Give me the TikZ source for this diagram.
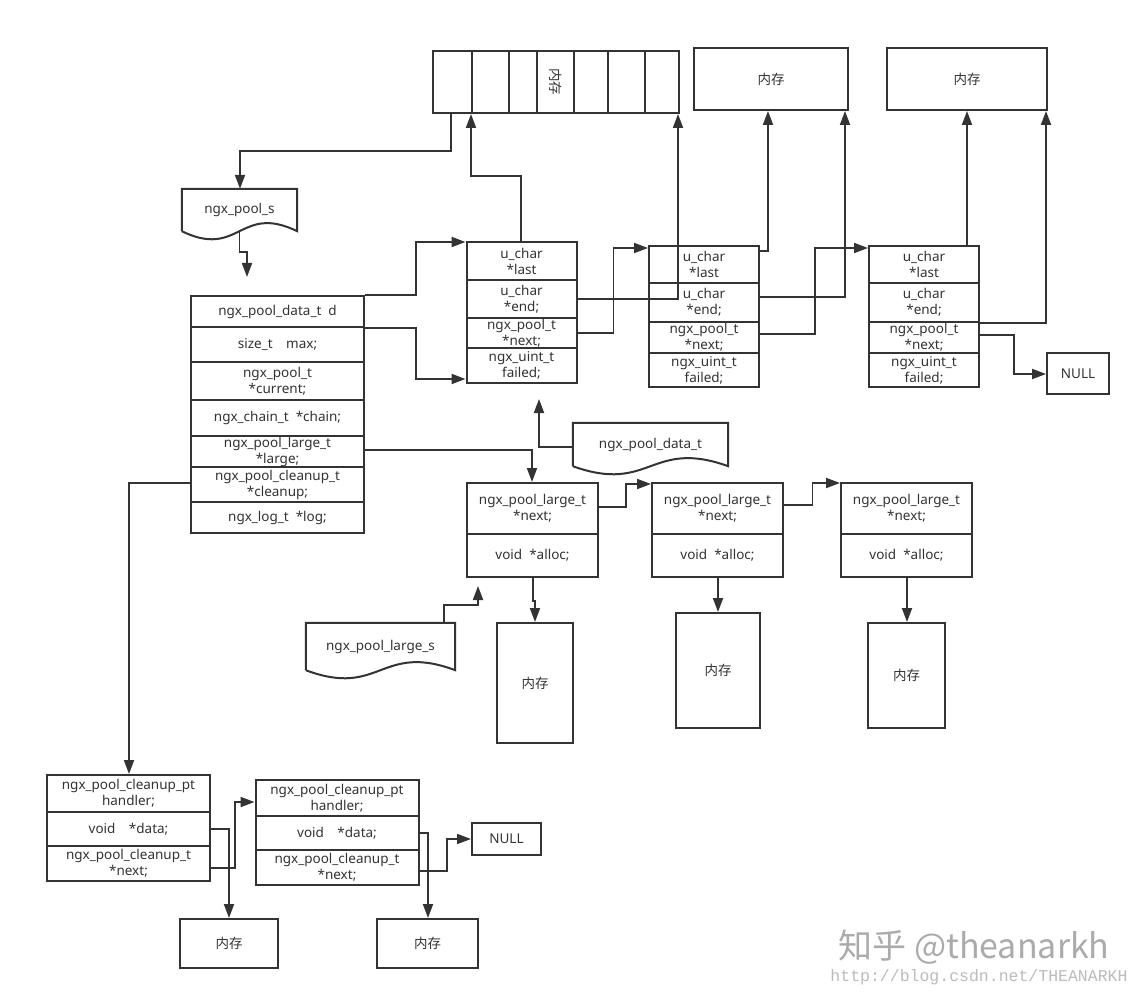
\documentclass[tikz,border=0pt]{standalone}
\usepackage{fontspec}
\setmainfont{Noto Sans}
\newfontfamily\cjk{Noto Sans CJK SC}
\setmonofont{Liberation Mono}
\usetikzlibrary{arrows.meta,calc}
\definecolor{ink}{HTML}{333333}
\definecolor{wmark}{HTML}{ABABAB}
\newcommand{\mem}{{\cjk 内存}}
% flat top, wavy bottom (document shape) round a named node
\newcommand{\docbox}[1]{%
  \draw[line] (#1.south west) -- (#1.north west) -- (#1.north east) -- (#1.south east)
    .. controls ($(#1.south)+(0,-28)$) and ($(#1.south)+(0,28)$) .. (#1.south west);}
\begin{document}
\begin{tikzpicture}[x=1pt, y=-1pt,
  cell/.style={draw=ink, line width=2pt, inner sep=0pt, align=center, text=ink, font=\fontsize{13.5}{16}\selectfont},
  arrcell/.style={cell, minimum height=62pt},
  pool/.style={cell, minimum width=173pt},
  blk/.style={cell, minimum width=110pt},
  lrg/.style={cell, minimum width=131pt},
  cln/.style={cell, minimum width=163pt},
  doc/.style={inner sep=0pt, text=ink, font=\fontsize{13.5}{16}\selectfont},
  line/.style={draw=ink, line width=2pt},
  link/.style={draw=ink, line width=1.9pt, -{Triangle[length=14pt,width=10pt]}}]
\useasboundingbox (0,0) rectangle (1141,1000);
\fill[white] (0,0) rectangle (1141,1000);
% memory array
\node[arrcell, minimum width=39pt] (arr1) at (452.5,82) {};
\node[arrcell, minimum width=37pt] (arr2) at (490.5,82) {};
\node[arrcell, minimum width=28pt] (arr3) at (523,82) {};
\node[arrcell, minimum width=37pt] (arr4) at (555.5,82) {\rotatebox{-90}{\mem}};
\node[arrcell, minimum width=34pt] (arr5) at (591,82) {};
\node[arrcell, minimum width=37pt] (arr6) at (626.5,82) {};
\node[arrcell, minimum width=34pt] (arr7) at (662,82) {};
\node[cell, minimum width=154pt, minimum height=62pt] (mem2) at (771,79) {\mem};
\node[cell, minimum width=160pt, minimum height=62pt] (mem3) at (967,79) {\mem};
% ngx_pool_s
\node[doc, minimum width=115pt, minimum height=42pt] (npool) at (239.5,210) {ngx\_pool\_s};
\docbox{npool}
\node[pool, minimum height=31pt] (pd) at (277.5,311.5) {ngx\_pool\_data\_t\ \ d};
\node[pool, minimum height=35pt] (pmax) at (277.5,344.5) {size\_t\quad max;};
\node[pool, minimum height=38pt] (pcur) at (277.5,381) {ngx\_pool\_t\\*current;};
\node[pool, minimum height=36pt] (pchain) at (277.5,418) {ngx\_chain\_t\ \ *chain;};
\node[pool, minimum height=31pt] (plarge) at (277.5,451.5) {ngx\_pool\_large\_t\\*large;};
\node[pool, minimum height=35pt] (pclean) at (277.5,484.5) {ngx\_pool\_cleanup\_t\\*cleanup;};
\node[pool, minimum height=31pt] (plog) at (277.5,517.5) {ngx\_log\_t\ \ *log;};
% ngx_pool_data_t blocks
\node[blk, minimum height=38pt] (d1last) at (521.5,261) {u\_char\\*last};
\node[blk, minimum height=38pt] (d1end) at (521.5,299) {u\_char\\*end;};
\node[blk, minimum height=30pt] (d1next) at (521.5,333) {ngx\_pool\_t\\*next;};
\node[blk, minimum height=35pt] (d1fail) at (521.5,365.5) {ngx\_uint\_t\\failed;};
\node[blk, minimum height=37pt] (d2last) at (704,264.5) {u\_char\\*last};
\node[blk, minimum height=39pt] (d2end) at (704,302.5) {u\_char\\*end;};
\node[blk, minimum height=31pt] (d2next) at (704,337.5) {ngx\_pool\_t\\*next;};
\node[blk, minimum height=34pt] (d2fail) at (704,370) {ngx\_uint\_t\\failed;};
\node[blk, minimum height=37pt] (d3last) at (924,264.5) {u\_char\\*last};
\node[blk, minimum height=39pt] (d3end) at (924,302.5) {u\_char\\*end;};
\node[blk, minimum height=31pt] (d3next) at (924,337.5) {ngx\_pool\_t\\*next;};
\node[blk, minimum height=34pt] (d3fail) at (924,370) {ngx\_uint\_t\\failed;};
\node[cell, minimum width=62pt, minimum height=41pt] (null1) at (1078,373.5) {NULL};
\node[doc, minimum width=155pt, minimum height=43pt] (ndata) at (650.5,444.5) {ngx\_pool\_data\_t};
\docbox{ndata}
% ngx_pool_large_t blocks
\node[lrg, minimum height=51pt] (l1next) at (532.5,508.5) {ngx\_pool\_large\_t\\*next;};
\node[lrg, minimum height=43pt] (l1alloc) at (532.5,555.5) {void\ \ *alloc;};
\node[lrg, minimum height=51pt] (l2next) at (717.5,508.5) {ngx\_pool\_large\_t\\*next;};
\node[lrg, minimum height=43pt] (l2alloc) at (717.5,555.5) {void\ \ *alloc;};
\node[lrg, minimum height=51pt] (l3next) at (906.5,508.5) {ngx\_pool\_large\_t\\*next;};
\node[lrg, minimum height=43pt] (l3alloc) at (906.5,555.5) {void\ \ *alloc;};
\node[cell, minimum width=76pt, minimum height=120pt] (lm1) at (535,683) {\mem};
\node[cell, minimum width=84pt, minimum height=115pt] (lm2) at (718,670.5) {\mem};
\node[cell, minimum width=77pt, minimum height=105pt] (lm3) at (906.5,675.5) {\mem};
\node[doc, minimum width=149pt, minimum height=47pt] (nlarge) at (380.5,646.5) {ngx\_pool\_large\_s};
\docbox{nlarge}
% ngx_pool_cleanup_t blocks
\node[cln, minimum height=37pt] (c1handler) at (128.5,793.5) {ngx\_pool\_cleanup\_pt\\handler;};
\node[cln, minimum height=34pt] (c1data) at (128.5,829) {void\quad *data;};
\node[cln, minimum height=35pt] (c1next) at (128.5,863.5) {ngx\_pool\_cleanup\_t\\*next;};
\node[cln, minimum height=36pt] (c2handler) at (337,798) {ngx\_pool\_cleanup\_pt\\handler;};
\node[cln, minimum height=34pt] (c2data) at (337,833) {void\quad *data;};
\node[cln, minimum height=35pt] (c2next) at (337,867.5) {ngx\_pool\_cleanup\_t\\*next;};
\node[cell, minimum width=69pt, minimum height=32pt] (cnull) at (506.5,839) {NULL};
\node[cell, minimum width=98pt, minimum height=49pt] (cm1) at (229,943.5) {\mem};
\node[cell, minimum width=101pt, minimum height=49pt] (cm2) at (427.5,943.5) {\mem};
% watermark
\node[text=wmark, font=\cjk\fontsize{34}{34}\selectfont] (wm1) at (974,947) {知乎 @theanarkh};
\node[text=wmark!80, font=\ttfamily\fontsize{16.5}{17}\selectfont] (wm2) at (979,977) {http://blog.csdn.net/THEANARKH};
% links
\draw[link] ([xshift=-1.5pt]arr1.south) -- ++(0,37) -| ([xshift=0.5pt]npool.north);
\draw[link] (npool.south) -- ++(0,21) -| ([xshift=-30.5pt,yshift=18pt]pd.north);
\draw[link] (pd.north east) -- ++(51,0) |- ([yshift=-1pt]d1last.north west);
\draw[link] (pd.south east) -- ++(51,0) |- ([yshift=5pt]d1fail.south west);
\draw[link] ([xshift=-0.5pt]d1last.north) -- ++(0,-65) -| (arr2.south west);
\draw[link] (d1end.east) -| ([xshift=-2pt]arr7.south east);
\draw[link] (d1next.east) -- ++(36,0) |- ([yshift=-3pt]d2last.north west);
\draw[link] ([yshift=-6pt]d2last.north east) -| ([xshift=75pt]mem2.south west);
\draw[link] ([yshift=5.5pt]d2end.east) -| ([xshift=-4pt]mem2.south east);
\draw[link] ([yshift=3.5pt]d2next.east) -- ++(55,0) |- ([yshift=-3pt]d3last.north west);
\draw[link] (d3last.north -| mem3.south) -- (mem3.south);
\draw[link] (d3end.south east) -| ([xshift=-2pt]mem3.south east);
\draw[link] ([yshift=2.5pt]d3next.east) -- ++(34,0) |- ([yshift=-0.5pt]null1.west);
\draw[link] ([yshift=1.5pt]plarge.east) -| ([xshift=-0.5pt]l1next.north);
\draw[link] ([yshift=-2.5pt]ndata.west) -| ([xshift=17.5pt,yshift=-15pt]d1fail.south);
\draw[link] ([yshift=1.5pt]l1next.east) -- ++(27,0) |- ([yshift=-2pt]l2next.north west);
\draw[link] ([yshift=3.5pt]l2next.east) -- ++(28.5,0) |- ([yshift=-1pt]l3next.north west);
\draw[link] ([xshift=0.5pt]l1alloc.south) -- ++(0,23) -| (lm1.north);
\draw[link] (l2alloc.south -| lm2.north) -- (lm2.north);
\draw[link] ([xshift=0.5pt]l3alloc.south) -- ([xshift=0.5pt]lm3.north);
\draw[link] ([xshift=-11pt]nlarge.north east) -- ++(0,-18) -| ([xshift=-54.5pt,yshift=-8pt]l1alloc.south);
\draw[link] ([yshift=1.5pt]pclean.west) -| ([xshift=0.5pt]c1handler.north);
\draw[link] (c1data.east) -| (cm1.north);
\draw[link] ([yshift=-4.5pt]c1next.east) -- ++(24,0) |- ([yshift=-4pt]c2handler.west);
\draw[link] (c2data.east) -| ([xshift=0.5pt]cm2.north);
\draw[link] ([yshift=-3.5pt]c2next.east) -- ++(27.5,0) |- (cnull.west);
\end{tikzpicture}
\end{document}
